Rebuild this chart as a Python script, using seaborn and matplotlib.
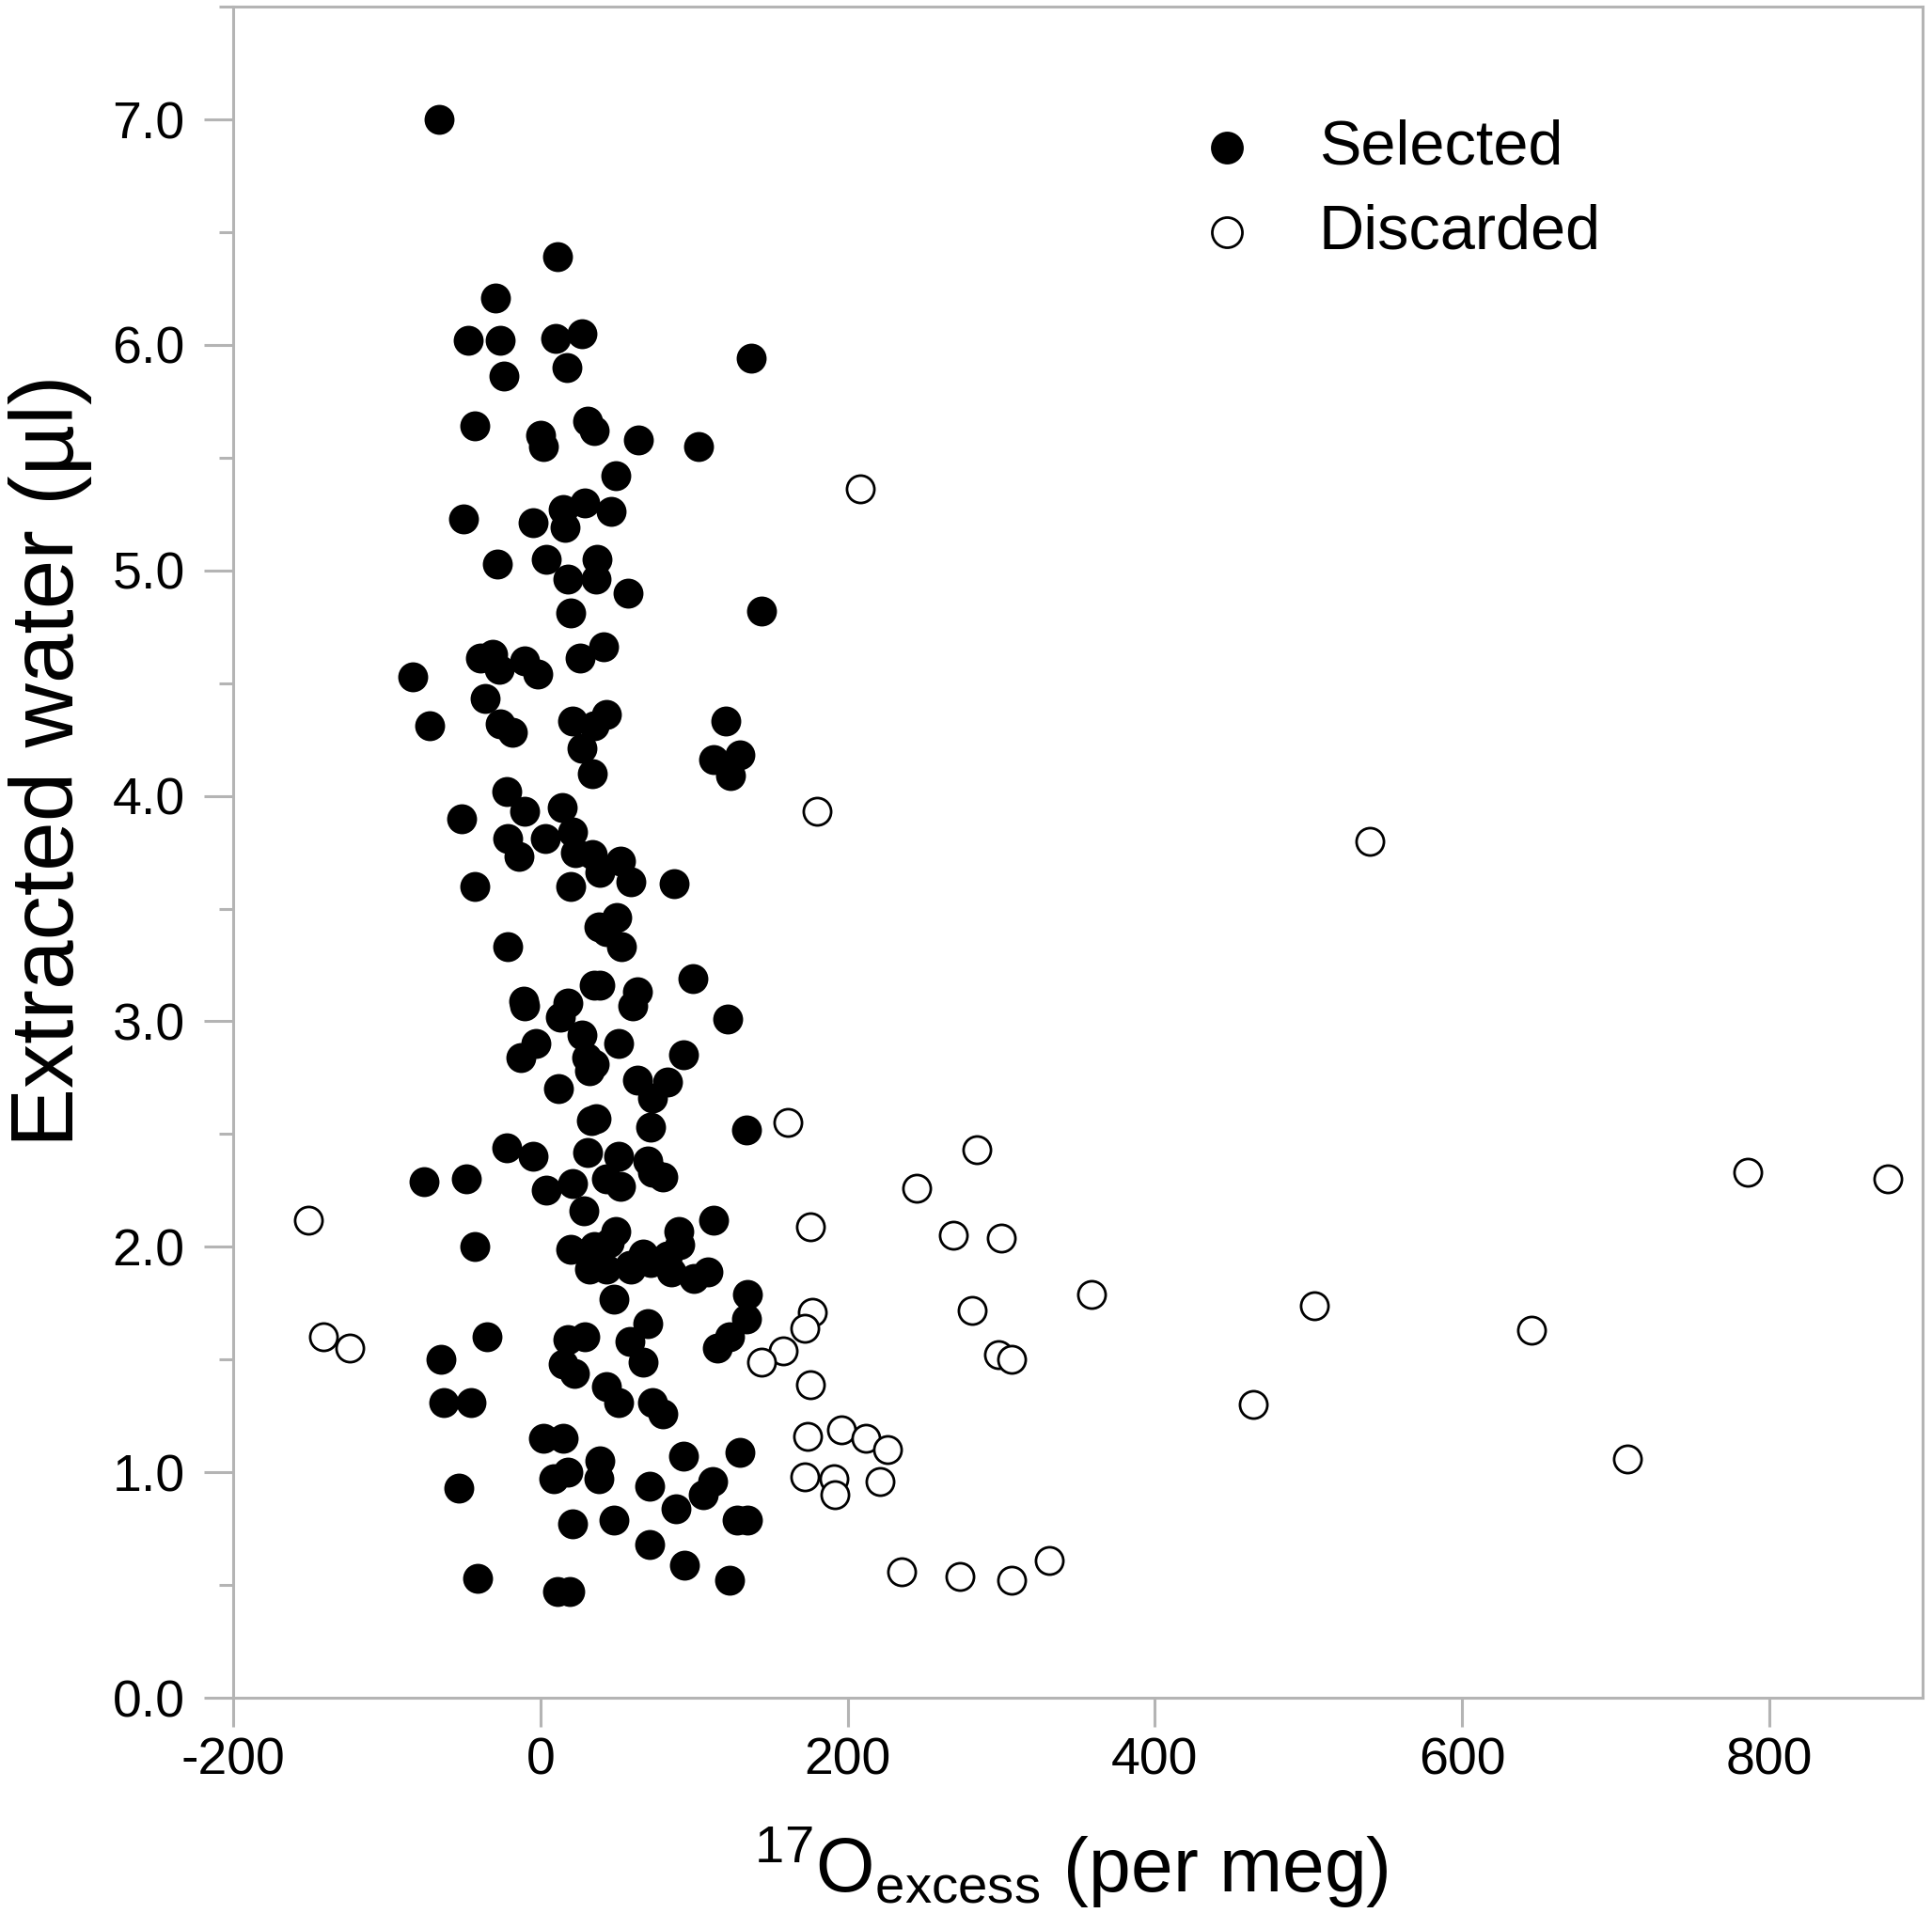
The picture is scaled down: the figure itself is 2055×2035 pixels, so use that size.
import pandas as pd
import seaborn as sns
import matplotlib.pyplot as plt
from matplotlib.ticker import MultipleLocator, FormatStrFormatter

# selected samples: 17O-excess (per meg) vs extracted water (ul)
sel_x = [-66, 11, -29, -47, -26, 10, 27, 17, -24, 137,
         -43, 0, 2, 31, 35, 64, 103, 49, -50, 29,
         -5, 15, 16, 46, -28, 4, 37, 18, 36, 57,
         20, 144, -83, -39, -31, -27, -10, -2, -36, 41,
         26, -72, -26, -18, 21, 43, 35, 27, 34, 121,
         113, 130, 124, -22, 14, -51, -10, -21, 3, -14,
         21, 23, 34, 52, 39, 59, 20, -43, 87, 50,
         38, 43, 53, -21, 99, 35, 39, 63, 60, -11,
         -10, 18, 13, 122, 27, -3, 51, -13, 30, 35,
         32, 93, 63, 83, 73, 12, 36, 33, 72, 134,
         -22, -5, 31, 51, 70, -76, -48, 4, 21, 43,
         52, 80, 73, 28, 113, -43, 20, 49, 45, 90,
         91, 35, 67, 72, 83, 58, 43, 32, 48, 59,
         100, 109, 85, 135, 134, 70, 123, 115, -35, 18,
         29, 58, -65, 15, 22, 67, 43, -63, -45, 51,
         73, 80, 2, 15, 130, 93, 39, -53, 9, 18,
         38, 71, 112, 106, 88, 128, 135, 48, 21, 71,
         94, -41, 123, 11, 19]
sel_y = [7.00, 6.39, 6.21, 6.02, 6.02, 6.03, 6.05, 5.90, 5.86, 5.94,
         5.64, 5.60, 5.55, 5.66, 5.62, 5.58, 5.55, 5.42, 5.23, 5.30,
         5.21, 5.27, 5.19, 5.26, 5.03, 5.05, 5.05, 4.96, 4.96, 4.90,
         4.81, 4.82, 4.53, 4.61, 4.63, 4.56, 4.60, 4.54, 4.43, 4.66,
         4.61, 4.31, 4.32, 4.28, 4.33, 4.36, 4.31, 4.21, 4.10, 4.33,
         4.16, 4.18, 4.09, 4.02, 3.95, 3.90, 3.93, 3.81, 3.81, 3.73,
         3.84, 3.75, 3.74, 3.71, 3.66, 3.62, 3.60, 3.60, 3.61, 3.46,
         3.42, 3.40, 3.33, 3.33, 3.19, 3.16, 3.16, 3.13, 3.07, 3.09,
         3.07, 3.08, 3.02, 3.01, 2.94, 2.90, 2.90, 2.84, 2.84, 2.81,
         2.78, 2.85, 2.74, 2.73, 2.66, 2.70, 2.57, 2.56, 2.53, 2.52,
         2.44, 2.40, 2.42, 2.40, 2.38, 2.29, 2.30, 2.25, 2.28, 2.30,
         2.27, 2.31, 2.33, 2.16, 2.12, 2.00, 1.99, 2.07, 2.02, 2.07,
         2.01, 2.00, 1.97, 1.93, 1.96, 1.92, 1.90, 1.90, 1.77, 1.90,
         1.86, 1.89, 1.89, 1.79, 1.68, 1.66, 1.60, 1.55, 1.60, 1.59,
         1.60, 1.58, 1.50, 1.48, 1.44, 1.49, 1.38, 1.31, 1.31, 1.31,
         1.31, 1.26, 1.15, 1.15, 1.09, 1.07, 1.05, 0.93, 0.97, 1.00,
         0.97, 0.94, 0.96, 0.90, 0.84, 0.79, 0.79, 0.79, 0.77, 0.68,
         0.59, 0.53, 0.52, 0.47, 0.47]

# discarded samples
dis_x = [208, 180, 540, 161, 284, 245, 786, 877, -151, 176,
         269, 300, 359, 504, 177, 281, 172, -141, -124, 158,
         144, 298, 307, 645, 176, 464, 196, 174, 212, 226,
         708, 172, 191, 221, 192, 235, 273, 331, 307]
dis_y = [5.36, 3.93, 3.80, 2.55, 2.43, 2.26, 2.33, 2.30, 2.12, 2.09,
         2.05, 2.04, 1.79, 1.74, 1.71, 1.72, 1.64, 1.60, 1.55, 1.54,
         1.49, 1.52, 1.50, 1.63, 1.39, 1.30, 1.19, 1.16, 1.15, 1.10,
         1.06, 0.98, 0.97, 0.96, 0.90, 0.56, 0.54, 0.61, 0.52]

x_ticks = [-200, 0, 200, 400, 600, 800]

sns.set_style('ticks')
plt.rcParams['font.family'] = ['Liberation Sans', 'DejaVu Sans']
plt.rcParams['mathtext.default'] = 'regular'
plt.rcParams['axes.unicode_minus'] = False
plt.rcParams['text.color'] = 'black'
plt.rcParams['axes.labelcolor'] = 'black'

sel = pd.DataFrame({'excess': sel_x, 'water': sel_y})
dis = pd.DataFrame({'excess': dis_x, 'water': dis_y})

fig = plt.figure(figsize=(20.55, 20.35), dpi=100)
ax = fig.add_axes([0.1207, 0.1125, 0.8745, 0.8840])

sns.scatterplot(data=sel, x='excess', y='water', ax=ax, s=460, color='black',
                edgecolor='black', linewidth=1.5, label='Selected', zorder=3)
sns.scatterplot(data=dis, x='excess', y='water', ax=ax, s=440, color='white',
                edgecolor='black', linewidth=2.0, label='Discarded', zorder=3)

ax.set_xlim(-200, 900)
ax.set_ylim(0, 7.5)
ax.set_xticks(x_ticks)
ax.yaxis.set_major_locator(MultipleLocator(1.0))
ax.yaxis.set_minor_locator(MultipleLocator(0.5))
ax.yaxis.set_major_formatter(FormatStrFormatter('%.1f'))

grey = '#b4b4b4'
for sp in ax.spines.values():
    sp.set_color(grey)
    sp.set_linewidth(2.2)
ax.tick_params(axis='both', which='major', length=22, width=2.2, color=grey,
               labelsize=40, labelcolor='black')
ax.tick_params(axis='y', which='minor', length=11, width=2.2, color=grey)
ax.tick_params(axis='y', which='major', pad=15)
ax.tick_params(axis='x', which='major', pad=8)

ax.set_xlabel('$^{17}$O$_{excess}$ (per meg)', fontsize=58, va='center')
ax.xaxis.set_label_coords(0.496, -0.100)
ax.set_ylabel('Extracted water (\u00b5l)', fontsize=68, va='center')
ax.yaxis.set_label_coords(-0.108, 0.554)

ax.legend(loc='upper left', bbox_to_anchor=(0.551, 0.952), frameon=False,
          fontsize=48, borderpad=0, handlelength=1.0, handletextpad=0.97,
          labelspacing=0.41, scatterpoints=1, markerscale=1.1)

fig.savefig('out.png', dpi=100)
plt.close(fig)
